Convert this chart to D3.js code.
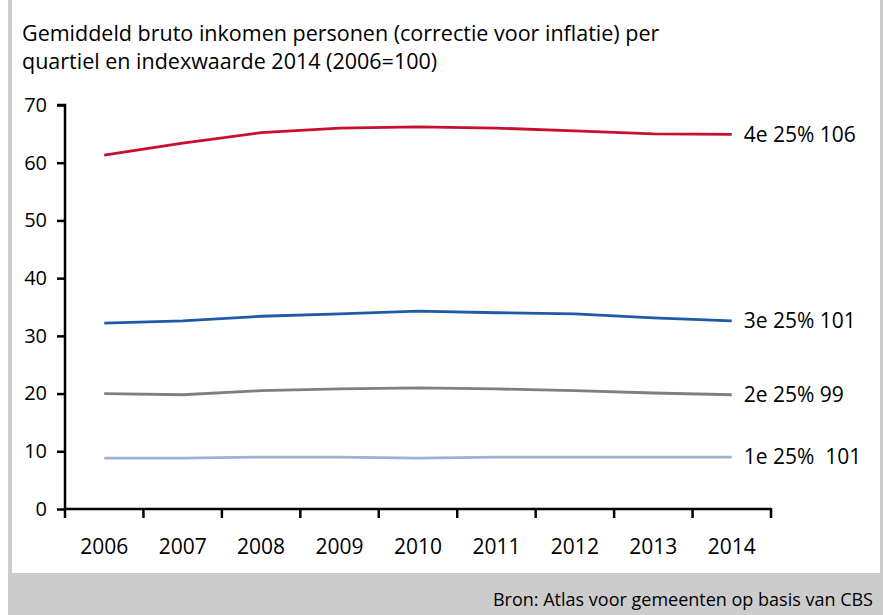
<!DOCTYPE html>
<html>
<head>
<meta charset="utf-8">
<script src="https://cdn.jsdelivr.net/npm/d3@7"></script>
<style>
  body { margin: 0; background: #fff; }
  svg { display: block; font-family: "Open Sans", sans-serif; }
</style>
</head>
<body>
<script>
const WIDTH = 883;
const HEIGHT = 615;

const years = ["2006", "2007", "2008", "2009", "2010", "2011", "2012", "2013", "2014"];
const q4 = [61.3, 63.4, 65.2, 66.0, 66.2, 66.0, 65.5, 65.0, 64.9];
const q3 = [32.2, 32.6, 33.4, 33.8, 34.3, 34.0, 33.8, 33.1, 32.6];
const q2 = [20.0, 19.8, 20.5, 20.8, 21.0, 20.8, 20.5, 20.1, 19.8];
const q1 = [8.8, 8.8, 9.0, 9.0, 8.8, 9.0, 9.0, 9.0, 9.0];
const seriesNames = ["4e 25% 106", "3e 25% 101", "2e 25% 99", "1e 25%\u00a0 101"];
const yTicks = [0, 10, 20, 30, 40, 50, 60, 70];
const titleLines = [
  "Gemiddeld bruto inkomen personen (correctie voor inflatie) per",
  "quartiel en indexwaarde 2014 (2006=100)"
];
const source = "Bron: Atlas voor gemeenten op basis van CBS";

const colors = ["#c8102e", "#1f5aa6", "#7f7f7f", "#9cb2d3"];
const series = [q4, q3, q2, q1].map((values, i) => ({
  name: seriesNames[i],
  color: colors[i],
  values
}));

const svg = d3.select("body").append("svg")
    .attr("width", WIDTH)
    .attr("height", HEIGHT);

// frame: grey strips left/right and grey footer band
svg.append("rect").attr("x", 8).attr("y", 0).attr("width", 4).attr("height", HEIGHT).attr("fill", "#cccccc");
svg.append("rect").attr("x", 880).attr("y", 0).attr("width", 3).attr("height", HEIGHT).attr("fill", "#cccccc");
svg.append("rect").attr("x", 8).attr("y", 573).attr("width", WIDTH - 8).attr("height", HEIGHT - 573).attr("fill", "#cccccc");

svg.append("text")
    .attr("x", WIDTH - 10)
    .attr("y", 606)
    .attr("text-anchor", "end")
    .attr("font-size", 18)
    .attr("fill", "#000")
    .text(source);

const title = svg.append("text")
    .attr("font-size", 21.5)
    .attr("fill", "#000");
titleLines.forEach((line, i) => {
  title.append("tspan").attr("x", 22).attr("y", 41 + i * 28).text(line);
});

const x = d3.scaleBand().domain(years).range([65, 771]);
const y = d3.scaleLinear().domain([0, 70]).range([509, 105]);

// y axis
const yAxis = svg.append("g")
    .attr("transform", "translate(65,0)")
    .call(d3.axisLeft(y).tickValues(yTicks).tickSize(8).tickPadding(10).tickFormat(d3.format("d")));
yAxis.select(".domain").attr("stroke-width", 2.5).attr("d", `M-8,${y(70)}H0V${y(0)}`);
yAxis.selectAll(".tick line").attr("stroke-width", 2.5);
yAxis.selectAll(".tick text").attr("font-size", 20).attr("fill", "#000").attr("font-family", "Open Sans, sans-serif");

// x axis with ticks on band edges
const edges = years.map(d => x(d)).concat([x.range()[1]]);
const xAxis = svg.append("g").attr("transform", `translate(0,${y(0)})`);
xAxis.append("line")
    .attr("x1", 65).attr("x2", 771)
    .attr("stroke", "#000").attr("stroke-width", 2.5);
xAxis.selectAll(".edge").data(edges).enter()
  .append("line")
    .attr("class", "edge")
    .attr("x1", d => d).attr("x2", d => d)
    .attr("y1", -1).attr("y2", 9)
    .attr("stroke", "#000").attr("stroke-width", 2.5);
xAxis.selectAll(".lbl").data(years).enter()
  .append("text")
    .attr("class", "lbl")
    .attr("x", d => x(d) + x.bandwidth() / 2)
    .attr("y", 45)
    .attr("text-anchor", "middle")
    .attr("font-size", 21)
    .text(d => d);

const line = d3.line()
    .x((d, i) => x(years[i]) + x.bandwidth() / 2)
    .y(d => y(d));

svg.selectAll(".series").data(series).enter()
  .append("path")
    .attr("class", "series")
    .attr("fill", "none")
    .attr("stroke", d => d.color)
    .attr("stroke-width", 2.8)
    .attr("d", d => line(d.values));

svg.selectAll(".slabel").data(series).enter()
  .append("text")
    .attr("class", "slabel")
    .attr("x", x(years[years.length - 1]) + x.bandwidth() / 2 + 12)
    .attr("y", d => y(d.values[d.values.length - 1]))
    .attr("dy", "0.35em")
    .attr("font-size", 21)
    .text(d => d.name);
</script>
</body>
</html>
